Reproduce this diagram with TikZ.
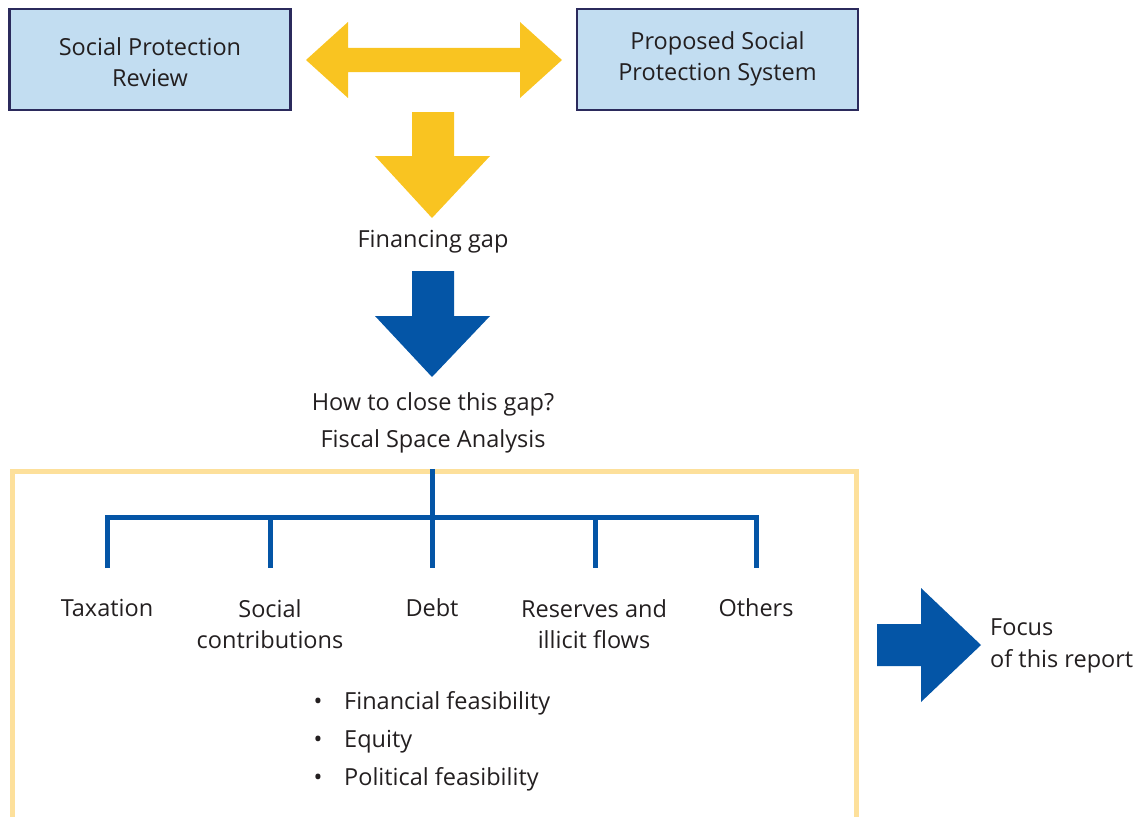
\documentclass[tikz,border=0pt]{standalone}
\usepackage{fontspec}
\setmainfont{Open Sans}
\definecolor{boxfill}{HTML}{C2DDF1}
\definecolor{boxline}{HTML}{2B2A5C}
\definecolor{ayellow}{HTML}{F9C421}
\definecolor{ablue}{HTML}{0455A6}
\definecolor{frame}{HTML}{FDE09B}
\definecolor{txt}{HTML}{231F20}
\begin{document}
\begin{tikzpicture}[x=1pt,y=-1pt,
  every node/.style={text=txt,font=\fontsize{23.5}{31.5}\selectfont,inner sep=0pt},
  topbox/.style={draw=boxline,line width=2.2pt,fill=boxfill,minimum width=281pt,minimum height=101pt},
  lbl/.style={align=center},
  branch/.style={draw=ablue,line width=5pt},
  yarrow/.style={fill=ayellow},
  barrow/.style={fill=ablue}]
\useasboundingbox (0,0) rectangle (1142,816);
% top boxes
\node[topbox] (spr) at (150,59.5) {};
\node[topbox] (pss) at (717.5,59.5) {};
\node[lbl] (sprt) at (150,62) {Social Protection\\Review};
\node[lbl] (psst) at (717.5,59) {Proposed Social\\Protection System};
% double arrow
\path[yarrow] (306,60) -- (348,22) -- (348,48) -- (520,48) -- (520,22) -- (562,60) -- (520,98) -- (520,72) -- (348,72) -- (348,98) -- cycle;
% yellow down arrow
\path[yarrow] (412,112) -- (454,112) -- (454,156) -- (490,156) -- (432,218) -- (375,156) -- (412,156) -- cycle;
\node[lbl] (gap) at (433,242) {Financing gap};
% blue down arrow
\path[barrow] (412,271) -- (454,271) -- (454,316) -- (490,316) -- (432,377) -- (375,316) -- (412,316) -- cycle;
\node[lbl] (how) at (433,404) {How to close this gap?};
\node[lbl] (fsa) at (433,441) {Fiscal Space Analysis};
% frame
\draw[frame,line width=5pt] (12,471) rectangle (856,830);
% tree
\coordinate (stem) at (432,469);
\coordinate (hub) at (432,517);
\coordinate (b1) at (107,517);
\coordinate (b2) at (270,517);
\coordinate (b4) at (595,517);
\coordinate (b5) at (756,517);
\coordinate (e1) at (107,568);
\coordinate (e2) at (270,568);
\coordinate (e3) at (432,568);
\coordinate (e4) at (595,568);
\coordinate (e5) at (756,568);
\draw[branch] (stem) -- (e3);
\draw[branch] (e1) -- (b1) -- (b5) -- (e5);
\draw[branch] (b2) -- (e2);
\draw[branch] (b4) -- (e4);
\node[lbl] (tax) at (107,608) {Taxation};
\node[lbl] (soc) at (270,624) {Social\\contributions};
\node[lbl] (debt) at (432,608) {Debt};
\node[lbl] (res) at (594,624) {Reserves and\\illicit flows};
\node[lbl] (oth) at (756,608) {Others};
% bullets
\node[anchor=base west] (f1) at (344,709) {Financial feasibility};
\node[anchor=base west] (f2) at (344,747) {Equity};
\node[anchor=base west] (f3) at (344,785) {Political feasibility};
\node[anchor=base] (d1) at (318,709) {\textbullet};
\node[anchor=base] (d2) at (318,747) {\textbullet};
\node[anchor=base] (d3) at (318,785) {\textbullet};
% blue right arrow
\path[barrow] (877,624) -- (921,624) -- (921,588) -- (981,645) -- (921,702) -- (921,666) -- (877,666) -- cycle;
\node[anchor=west,align=left] (focus) at (990,646) {Focus\\of this report};
\end{tikzpicture}
\end{document}
